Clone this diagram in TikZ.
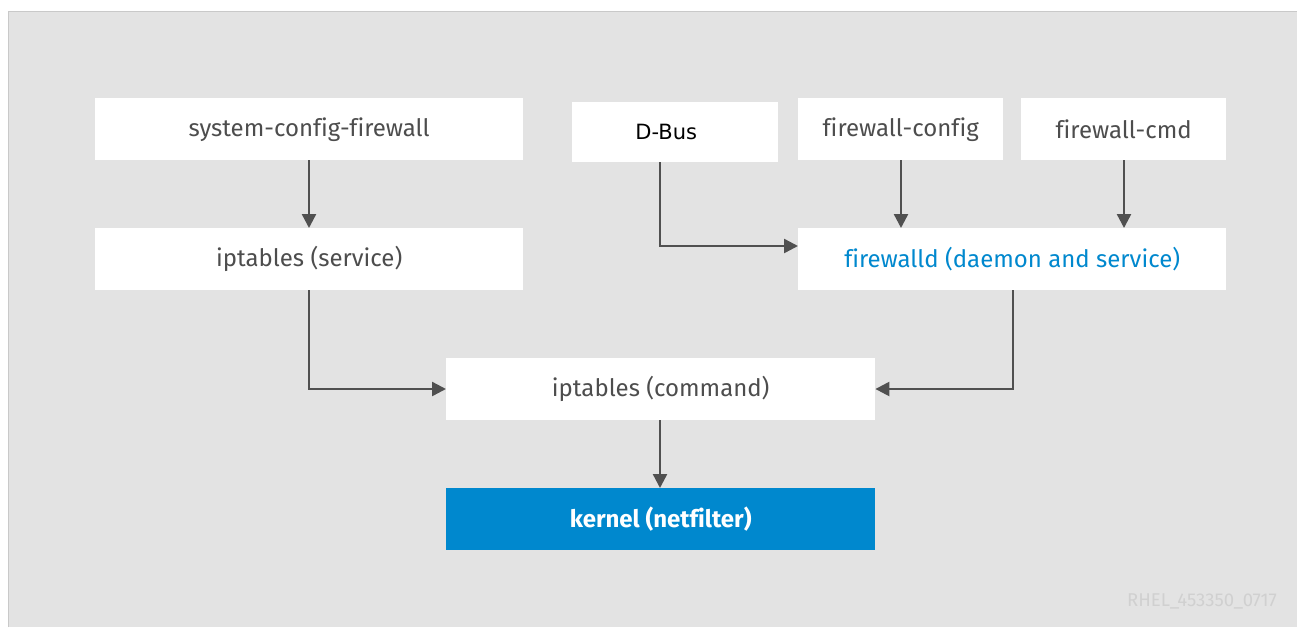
\documentclass[tikz,border=0pt]{standalone}
\usepackage{fontspec}
\setmainfont{Fira Sans}[Ligatures=NoCommon]
\newfontfamily\dvfont{DejaVu Sans}
\usetikzlibrary{arrows.meta}
\definecolor{bggrey}{HTML}{E3E3E3}
\definecolor{edgegrey}{HTML}{C9C9C9}
\definecolor{txtgrey}{HTML}{4D4D4D}
\definecolor{rhblue}{HTML}{0088CE}
\definecolor{arrgrey}{HTML}{505050}
\definecolor{wmgrey}{HTML}{D0D0D0}
\begin{document}
\begin{tikzpicture}[x=1pt,y=-1pt,
  box/.style={draw=none,fill=white,minimum height=62pt,inner sep=0pt,
    font=\fontsize{24}{28}\selectfont,text=txtgrey,anchor=north west},
  conn/.style={draw=arrgrey,line width=2.4pt,-{Triangle[length=14pt,width=14pt]}}]
\useasboundingbox (0,0) rectangle (1297,627);
\fill[white] (0,0) rectangle (1297,627);
\fill[bggrey] (8,11) rectangle (1297,627);
\draw[edgegrey,line width=1.2pt] (8.6,627) -- (8.6,11.6) -- (1297,11.6);
\node[box,minimum width=428pt] (scf) at (95,98) {system-config-firewall};
\node[box,minimum width=428pt] (ips) at (95,228) {iptables (service)};
\node[box,minimum width=206pt,minimum height=60pt] (dbus) at (572,102) {};
\node[box,minimum width=206pt,minimum height=60pt,font=\dvfont\fontsize{21}{25}\selectfont,text=black,xshift=-9pt,fill=none] (dbuslbl) at (572,102) {D-Bus};
\node[box,minimum width=205pt] (fwc) at (798,98) {firewall-config};
\node[box,minimum width=205pt] (fwm) at (1021,98) {firewall-cmd};
\node[box,minimum width=428pt,text=rhblue] (fwd) at (798,228) {firewalld (daemon and service)};
\node[box,minimum width=429pt] (ipc) at (446,358) {iptables (command)};
\node[box,minimum width=429pt,fill=rhblue,text=white,font=\fontsize{24}{28}\selectfont\bfseries] (ker) at (446,488) {kernel (netfilter)};
\node[anchor=east,text=wmgrey,font=\fontsize{18.5}{22}\selectfont,inner sep=0pt] (wm) at (1277,601) {RHEL\_453350\_0717};
\coordinate (c1) at (660,246);
\coordinate (c2) at (309,389);
\coordinate (c3) at (1013,389);
\draw[conn] (scf.south -| 309,0) -- (ips.north -| 309,0);
\draw[conn] (dbus.south -| c1) -- (c1) -- (fwd.west |- c1);
\draw[conn] (fwc.south -| 901,0) -- (fwd.north -| 901,0);
\draw[conn] (fwm.south -| 1124,0) -- (fwd.north -| 1124,0);
\draw[conn] (ips.south -| c2) -- (c2) -- (ipc.west |- c2);
\draw[conn] (fwd.south -| c3) -- (c3) -- (ipc.east |- c3);
\draw[conn] (ipc.south -| 660,0) -- (ker.north -| 660,0);
\end{tikzpicture}
\end{document}
